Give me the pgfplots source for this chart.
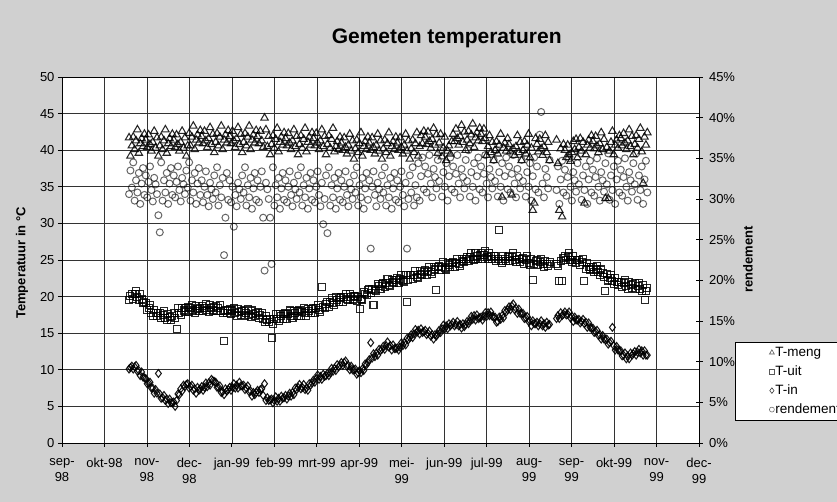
\documentclass[border=0pt]{standalone}
\usepackage{fontspec}
\setmainfont{Liberation Sans}
\usepackage{pgfplots}
\usepackage{pgfplotstable}
\pgfplotsset{compat=1.18}
\definecolor{bgcol}{RGB}{208,208,208}

\pgfplotstableread{
d m u i r
48 41.7 19.5 10.1 30.6
49 39.2 20.1 10.3 33.5
50 40.6 20.3 10.5 31.4
51 41.8 19.7 10.1 34.5
52 40.1 20.3 10.4 29.8
53 41.3 20.7 10.6 32.3
54 42.8 19.9 9.8 30.8
55 39.6 19.5 9.9 33.2
56 40.9 20.3 9.2 29.4
57 41.6 19.6 9.7 31.9
58 40.5 19.1 9.0 33.8
59 42.2 19.3 8.9 30.5
60 41.4 19.1 8.8 32.9
61 40.4 18.2 8.1 30.2
62 42.1 18.5 8.2 32.1
63 40.8 18.8 8.3 34.0
64 39.9 17.8 7.5 31.1
65 41.1 17.4 7.5 29.7
66 42.6 18.2 6.8 32.6
67 40.3 17.8 7.3 31.8
68 41.7 17.4 6.8 30.6
69 39.2 17.8 9.5 28.0
70 40.6 17.8 6.7 25.9
71 41.8 17.1 6.1 34.5
72 40.1 17.5 6.2 29.8
73 41.3 18.0 6.5 32.3
74 42.8 17.1 5.8 30.8
75 39.6 16.8 6.0 33.2
76 40.9 17.6 5.4 29.4
77 41.6 17.2 6.0 31.9
78 40.5 16.8 5.5 33.8
79 42.2 17.4 5.5 30.5
80 41.4 17.7 5.6 32.9
81 40.4 17.1 5.0 30.2
82 42.1 15.6 5.8 32.1
83 40.8 18.4 6.7 34.0
84 39.9 17.7 6.6 31.1
85 41.1 17.5 7.4 29.7
86 42.6 18.4 7.1 32.6
87 40.3 18.1 7.9 31.8
88 41.7 17.9 7.7 30.6
89 39.2 18.4 8.0 33.5
90 40.6 18.6 8.1 31.4
91 42.3 17.9 7.5 34.5
92 40.6 18.4 7.7 29.8
93 41.8 18.9 7.9 32.3
94 43.3 18.1 7.2 30.8
95 40.1 17.8 7.4 33.2
96 41.4 18.7 6.8 29.4
97 42.1 18.3 7.6 31.9
98 41.0 18.0 7.2 33.8
99 42.7 18.5 7.4 30.5
100 41.9 18.7 7.7 32.3
101 40.9 18.0 7.2 29.6
102 42.6 18.5 7.6 31.5
103 41.3 19.0 8.2 33.4
104 40.4 18.2 7.7 30.5
105 41.6 17.9 8.2 29.1
106 43.1 18.8 7.9 32.0
107 40.8 18.4 8.7 31.2
108 42.2 18.1 8.5 30.0
109 39.7 18.6 8.4 32.9
110 41.1 18.7 8.3 30.8
111 42.3 18.0 7.6 33.9
112 40.6 18.4 7.6 29.2
113 41.8 18.9 7.8 31.7
114 43.3 18.0 6.9 30.2
115 40.1 17.7 7.0 32.6
116 41.4 13.9 6.6 23.1
117 42.1 18.1 7.4 27.7
118 41.0 17.8 7.1 33.2
119 42.7 18.2 7.3 29.9
120 41.9 18.3 7.6 32.3
121 40.9 17.6 7.2 29.6
122 42.6 18.1 7.6 31.5
123 41.3 18.5 8.1 26.6
124 40.4 17.7 7.5 30.5
125 41.6 17.4 7.9 29.1
126 43.1 18.3 7.5 32.0
127 40.8 17.9 8.3 31.2
128 42.2 17.5 7.8 30.0
129 39.7 18.0 7.8 32.9
130 41.1 18.1 7.9 30.8
131 42.3 17.4 7.3 33.9
132 40.6 17.8 7.5 29.2
133 41.8 18.3 7.8 31.7
134 43.3 17.5 7.0 30.2
135 40.1 17.2 7.1 32.6
136 41.4 18.1 6.4 28.8
137 42.1 17.6 6.9 31.3
138 41.0 17.3 6.6 33.2
139 42.7 17.8 6.9 29.9
140 41.9 17.9 7.2 32.3
141 40.9 17.1 6.9 29.6
142 42.6 17.5 7.3 31.5
143 41.3 17.8 7.4 33.4
144 40.4 16.9 6.5 27.7
145 44.4 16.5 8.1 21.2
146 42.8 17.3 5.8 32.0
147 40.5 16.8 6.2 31.2
148 41.9 16.5 5.8 30.0
149 39.4 16.9 5.9 27.7
150 40.8 14.3 6.0 22.0
151 42.0 16.3 5.5 33.9
152 40.3 16.9 5.8 29.2
153 41.5 17.6 6.3 31.7
154 43.0 16.9 5.7 30.2
155 39.8 16.7 6.1 32.6
156 41.1 17.6 5.7 28.8
157 41.8 17.3 6.4 31.3
158 40.7 17.0 6.1 33.2
159 42.4 17.6 6.2 29.9
160 41.6 17.7 6.5 32.3
161 40.6 17.0 6.0 29.6
162 42.3 17.6 6.4 31.5
163 41.0 18.1 6.8 33.4
164 40.1 17.4 6.4 30.5
165 41.3 17.1 6.9 29.1
166 42.8 18.0 6.6 32.0
167 40.5 17.7 7.5 31.2
168 41.9 17.4 7.3 30.0
169 39.4 18.0 7.6 32.9
170 40.8 18.1 8.0 30.8
171 42.0 17.4 7.4 33.9
172 40.3 17.9 7.6 29.2
173 41.5 18.5 8.0 31.7
174 43.0 17.7 7.3 30.2
175 39.8 17.4 7.5 32.6
176 41.1 18.3 7.2 28.8
177 41.8 18.0 8.1 31.3
178 40.7 17.8 7.9 33.2
179 42.4 18.3 8.2 29.9
180 41.6 18.5 8.6 32.3
181 40.6 17.8 8.3 29.6
182 42.3 18.4 8.8 31.5
183 41.0 18.9 9.3 33.4
184 40.1 18.2 8.7 30.5
185 41.3 17.9 9.1 29.1
186 42.8 21.3 8.7 32.0
187 40.5 18.6 9.4 26.9
188 41.9 18.4 9.1 30.0
189 39.4 19.0 9.2 32.9
190 40.8 19.2 9.5 25.8
191 42.0 18.6 9.2 33.9
192 40.3 19.2 9.6 29.2
193 41.5 19.8 10.2 31.7
194 43.0 19.1 9.8 30.2
195 39.8 18.9 10.2 32.6
196 40.5 19.9 9.9 28.8
197 41.2 19.5 10.7 31.3
198 40.1 19.3 10.4 33.2
199 41.8 19.8 10.6 29.9
200 41.0 20.0 11.0 32.3
201 40.0 19.3 10.6 29.6
202 41.7 19.9 11.0 31.5
203 40.4 20.4 11.2 33.4
204 39.5 19.7 10.5 30.5
205 40.7 19.5 10.6 29.1
206 42.2 20.3 10.0 32.0
207 39.9 19.9 10.5 31.2
208 41.3 19.6 10.0 30.0
209 38.8 20.1 10.0 32.9
210 40.2 20.1 10.1 30.8
211 41.4 19.4 9.4 33.9
212 39.7 19.9 9.6 29.2
213 40.9 18.3 9.9 31.7
214 42.4 19.7 9.6 30.2
215 39.2 19.6 10.1 32.6
216 40.5 20.6 9.9 28.8
217 41.2 20.4 10.8 31.3
218 40.1 20.2 10.7 33.2
219 41.8 20.9 11.0 29.9
220 41.0 21.1 11.4 32.3
221 40.0 20.5 13.7 23.9
222 41.7 21.1 11.6 31.5
223 40.4 18.9 12.2 33.4
224 39.5 20.9 11.8 30.5
225 40.7 20.7 12.3 29.1
226 42.2 21.7 12.0 32.0
227 39.9 21.4 12.8 31.2
228 41.3 21.1 12.6 30.0
229 38.8 21.7 12.8 32.9
230 40.2 21.9 13.2 30.8
231 41.4 21.3 12.8 33.9
232 39.7 21.8 13.3 29.2
233 40.9 22.4 13.8 31.7
234 42.4 21.6 13.1 30.2
235 39.2 21.4 13.3 32.6
236 40.5 22.3 12.7 28.8
237 41.2 22.0 13.4 31.3
238 40.1 21.8 12.9 33.2
239 41.8 22.3 12.9 29.9
240 41.0 22.5 13.0 32.3
241 40.0 21.8 12.7 29.6
242 41.7 22.4 13.1 31.5
243 40.4 23.0 13.7 33.4
244 39.5 22.2 13.3 30.5
245 40.7 22.0 13.7 29.1
246 42.2 22.9 13.4 32.0
247 39.9 19.3 14.3 23.9
248 41.3 22.3 14.1 30.0
249 38.8 22.9 14.4 32.9
250 40.2 23.0 14.8 30.8
251 41.4 22.4 14.4 33.9
252 39.7 22.9 14.9 29.2
253 40.9 23.5 15.5 31.7
254 42.4 22.7 15.1 30.2
255 39.2 22.5 15.4 34.4
256 40.5 23.5 14.9 29.8
257 42.0 23.1 15.6 32.8
258 40.9 22.9 15.1 35.1
259 42.6 23.4 15.2 31.2
260 41.8 23.6 15.4 34.0
261 40.8 23.0 14.8 30.8
262 42.5 23.5 15.0 33.1
263 41.2 24.1 15.3 35.4
264 40.3 23.3 14.6 31.9
265 41.5 23.1 14.8 30.2
266 43.0 24.1 14.2 33.7
267 40.7 23.7 14.8 32.7
268 42.1 20.9 14.6 31.3
269 39.6 24.1 14.9 34.8
270 41.0 24.2 15.4 32.2
271 42.2 23.6 15.1 36.0
272 39.1 24.1 15.6 30.3
273 40.3 24.7 16.1 33.3
274 41.8 23.9 15.6 31.5
275 38.6 23.7 16.0 34.4
276 39.9 24.6 15.6 29.8
277 40.6 24.3 16.3 32.8
278 39.5 24.0 16.0 35.1
279 41.2 24.6 16.2 31.2
280 42.2 24.7 16.5 34.0
281 41.2 24.1 16.0 30.8
282 42.9 24.6 16.2 33.1
283 41.6 25.2 16.6 35.4
284 40.7 24.4 16.0 31.9
285 41.9 24.2 16.2 30.2
286 43.4 25.2 15.7 33.7
287 41.1 24.9 16.3 32.7
288 42.5 24.7 15.9 31.3
289 40.0 25.2 16.2 34.8
290 41.4 25.4 16.6 32.2
291 42.6 24.8 16.3 36.0
292 40.9 25.4 16.7 30.3
293 42.1 25.9 17.3 33.3
294 43.6 25.2 16.9 31.5
295 40.4 25.0 17.4 34.4
296 41.7 25.9 16.8 29.8
297 42.4 25.5 17.5 32.8
298 41.3 25.2 17.0 35.1
299 43.0 25.7 17.1 31.2
300 42.2 25.9 17.2 34.0
301 41.2 25.2 16.8 30.8
302 42.9 25.7 17.3 33.1
303 41.6 26.2 17.8 35.4
304 39.3 25.4 17.3 31.9
305 40.5 25.1 17.8 30.2
306 42.0 25.9 17.4 33.7
307 39.7 25.5 17.9 32.7
308 41.1 25.1 17.3 31.3
309 38.6 25.5 17.2 34.8
310 40.0 25.5 17.2 32.2
311 41.2 24.8 16.5 36.0
312 39.5 25.2 16.6 30.3
313 40.7 29.1 17.2 33.3
314 42.2 24.8 16.9 31.5
315 33.6 24.6 17.4 34.4
316 40.3 25.5 17.1 29.8
317 41.0 25.2 18.1 32.8
318 39.9 24.9 17.9 35.1
319 41.6 25.4 18.2 31.2
320 40.8 25.6 18.6 34.0
321 39.8 24.9 18.2 30.8
322 33.9 25.4 18.7 33.1
323 40.2 25.9 19.0 35.4
324 39.3 25.0 18.2 31.9
325 40.5 24.7 18.4 30.2
326 42.0 25.5 17.7 33.7
327 39.7 25.1 18.3 32.7
328 41.1 24.7 17.7 31.3
329 38.6 25.2 17.7 34.8
330 40.0 25.3 17.7 32.2
331 41.2 24.5 17.0 36.0
332 39.5 25.0 17.1 30.3
333 40.7 25.5 17.3 33.3
334 42.2 24.6 16.6 31.5
335 39.0 24.3 16.7 34.4
336 40.3 25.2 16.0 29.8
337 31.8 22.3 16.7 32.8
338 32.8 24.5 16.3 35.1
339 41.6 24.9 16.3 31.2
340 40.8 25.0 16.5 34.0
341 39.8 24.3 16.0 30.8
342 41.5 24.7 16.3 37.9
343 40.2 25.2 16.7 40.7
344 39.3 24.4 16.0 31.9
345 40.5 24.1 16.3 30.2
346 42.0 24.9 15.8 33.7
347 39.7 24.5 16.5 32.7
348 41.1 24.2 16.1 31.3
349 38.6 24.7 16.2 34.8
354 41.4 24.4 17.0 31.1
355 38.2 24.2 17.4 34.0
356 31.8 22.1 17.0 29.4
357 40.2 24.9 17.8 32.4
358 30.9 22.1 17.4 34.7
359 40.8 25.3 17.6 30.8
360 40.0 25.6 17.9 33.6
361 39.0 25.0 17.5 30.4
362 40.7 25.4 17.6 32.7
363 39.4 25.9 17.9 35.0
364 38.5 25.0 17.1 31.5
365 39.7 24.7 17.3 29.8
366 41.2 25.5 16.6 33.3
367 40.1 25.0 17.2 32.3
368 41.5 24.6 16.8 30.9
369 39.0 25.0 16.8 34.4
370 40.4 25.0 16.9 31.8
371 41.6 24.3 16.4 35.6
372 39.9 24.7 16.6 29.9
373 41.1 25.1 16.9 32.9
374 32.8 22.1 16.3 31.1
375 39.4 23.8 16.5 34.0
376 40.7 24.6 15.8 29.4
377 41.4 24.1 16.4 32.4
378 40.3 23.7 15.8 34.7
379 42.0 24.1 15.7 30.8
380 41.2 24.1 15.7 33.6
381 40.2 23.3 15.1 30.4
382 41.9 23.7 15.2 32.7
383 40.6 24.2 15.4 35.0
384 39.7 23.3 14.7 31.5
385 40.9 22.9 14.8 29.8
386 42.4 23.7 14.2 33.3
387 40.1 23.2 14.7 32.3
388 41.5 22.7 14.2 30.9
389 33.4 20.8 14.1 34.4
390 40.4 23.1 14.2 31.8
391 33.4 22.2 13.5 35.6
392 39.9 22.6 13.7 29.9
393 41.1 23.0 13.9 32.9
394 42.6 22.1 15.8 31.1
395 39.4 21.7 13.3 34.0
396 40.7 22.5 12.7 29.4
397 41.4 22.0 13.2 32.4
398 40.3 21.6 12.7 34.7
399 42.0 22.0 12.6 30.8
400 41.6 22.0 12.6 33.6
401 40.6 21.3 11.9 30.4
402 42.3 21.8 12.0 32.7
403 41.0 22.3 12.3 35.0
404 40.1 21.4 11.5 31.5
405 41.3 21.1 11.9 29.8
406 42.8 22.0 11.5 33.3
407 40.5 21.6 12.3 32.3
408 41.9 21.2 12.0 30.9
409 39.4 21.7 12.2 34.4
410 40.8 21.8 12.5 31.8
411 42.0 21.0 12.0 35.6
412 40.3 21.5 12.4 29.9
413 41.5 21.9 12.8 32.9
414 43.0 21.1 12.3 31.1
415 39.8 20.7 12.6 34.0
416 35.5 21.6 12.0 29.4
417 41.8 19.5 12.6 32.4
418 40.7 20.8 12.0 34.7
419 42.4 21.2 12.0 30.8
}\data

\pgfplotsset{
  tmeng/.style={only marks, mark=triangle, mark size=4.3pt, color=black,
    mark options={solid, draw=black, draw opacity=0.85, line width=1.05pt}},
  tuit/.style={only marks, mark=square, mark size=3.5pt, color=black,
    mark options={solid, draw=black, draw opacity=0.85, line width=1.05pt}},
  tin/.style={only marks, mark=diamond, mark size=3.9pt, color=black,
    mark options={solid, draw=black, draw opacity=0.9, line width=1.05pt}},
  trend/.style={only marks, mark=o, mark size=3.5pt, color=black,
    mark options={solid, draw=black, draw opacity=0.6, line width=1pt}},
}

\begin{document}
\begin{tikzpicture}[x=1pt,y=1pt]
\fill[bgcol] (-62,-59) rectangle (775,443);
\begin{axis}[
  at={(0,0)}, anchor=south west, scale only axis,
  width=637pt, height=366pt,
  xmin=0, xmax=456, ymin=0, ymax=50,
  axis background/.style={fill=white},
  xtick={0,30.4,60.8,91.2,121.6,152,182.4,212.8,243.2,273.6,304,334.4,364.8,395.2,425.6,456},
  xticklabels={{sep-\\98},{okt-98},{nov-\\98},{dec-\\98},{jan-99},{feb-99},{mrt-99},{apr-99},{mei-\\99},{jun-99},{jul-99},{aug-\\99},{sep-\\99},{okt-99},{nov-\\99},{dec-\\99}},
  ytick={0,5,10,15,20,25,30,35,40,45,50},
  yticklabels={0,5,10,15,20,25,30,35,40,45,50},
  xtick pos=bottom, ytick pos=left, tick align=outside,
  major tick length=4pt,
  grid=major,
  major grid style={black!80, line width=0.6pt},
  axis line style={black, line width=0.8pt},
  tick style={black, line width=0.8pt},
  ticklabel style={font=\fontsize{13}{15.5}\selectfont},
  x tick label style={align=center, anchor=north, yshift=-8pt},
]
\addplot[tmeng] table[x=d,y=m]{\data};
\addplot[tuit] table[x=d,y=u]{\data};
\addplot[tin] table[x=d,y=i]{\data};
\end{axis}
\begin{axis}[
  at={(0,0)}, anchor=south west, scale only axis,
  width=637pt, height=366pt,
  xmin=0, xmax=456, ymin=0, ymax=45,
  axis x line=none, axis y line*=right,
  ytick={0,5,10,15,20,25,30,35,40,45},
  yticklabels={0\%,5\%,10\%,15\%,20\%,25\%,30\%,35\%,40\%,45\%},
  tick align=center, major tick length=7pt,
  axis line style={black, line width=0.8pt},
  tick style={black, line width=0.8pt},
  ticklabel style={font=\fontsize{13}{15.5}\selectfont},
  y tick label style={xshift=3pt},
  legend style={at={(rel axis cs:1.0565,0.2768)}, anchor=north west,
    draw=black, line width=0.8pt, fill=white,
    inner xsep=34pt, inner ysep=3pt, row sep=4pt,
    font=\fontsize{13.5}{16}\selectfont,
    nodes={inner sep=1pt, text height=10pt, text depth=3pt}},
  legend cell align=left,
  legend image code/.code={\draw[#1] plot coordinates {(0pt,0pt)};},
]
\addlegendimage{only marks, mark=triangle, mark size=2.8pt, mark options={solid, draw=black!65, line width=0.6pt}}
\addlegendentry{T-meng}
\addlegendimage{only marks, mark=square, mark size=2.4pt, mark options={solid, draw=black!65, line width=0.6pt}}
\addlegendentry{T-uit}
\addlegendimage{only marks, mark=diamond, mark size=2.8pt, mark options={solid, draw=black!75, line width=0.6pt}}
\addlegendentry{T-in}
\addlegendimage{only marks, mark=o, mark size=2.5pt, mark options={solid, draw=black!55, line width=0.6pt}}
\addlegendentry{rendement}
\addplot[trend, forget plot] table[x=d,y=r]{\data};
\end{axis}
\node[anchor=base, font=\bfseries\fontsize{21}{24}\selectfont] at (384.7,399) {Gemeten temperaturen};
\node[rotate=90, font=\bfseries\fontsize{13}{15}\selectfont] at (-40,180) {Temperatuur in °C};
\node[rotate=90, font=\bfseries\fontsize{13}{15}\selectfont] at (686,183.5) {rendement};
\pgfresetboundingbox
\path[use as bounding box] (-62,-59) rectangle (775,443);
\end{tikzpicture}
\end{document}
